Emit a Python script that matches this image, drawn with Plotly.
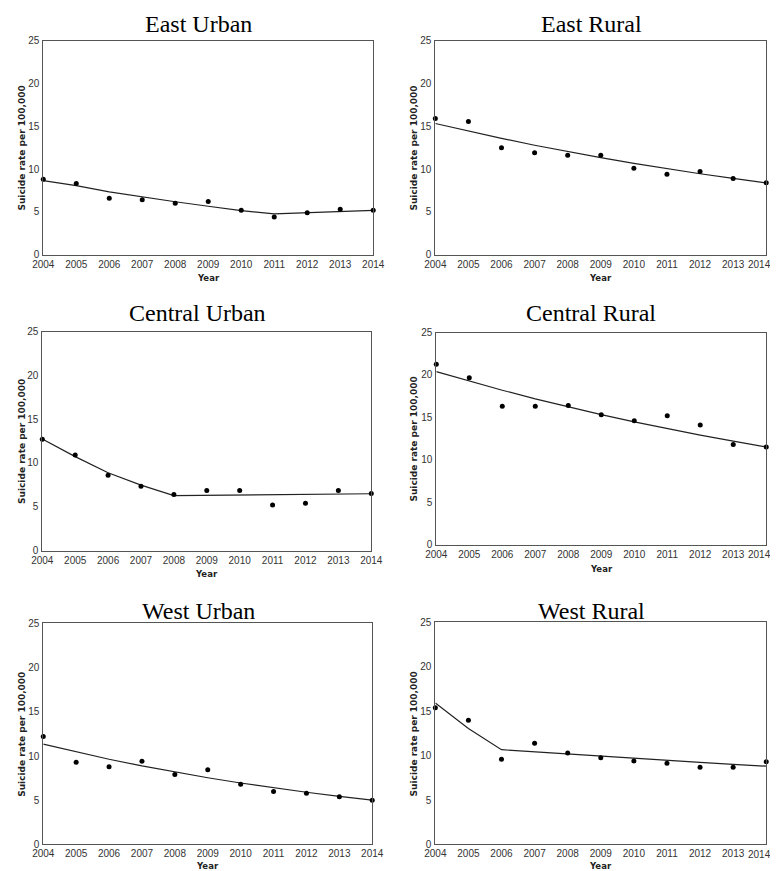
import plotly.graph_objects as go

W, H = 778, 871

years = list(range(2004, 2015))
year_labels = [str(y) for y in years]
y_ticks = [0, 5, 10, 15, 20, 25]

panel_titles = ["East Urban", "East Rural", "Central Urban",
                "Central Rural", "West Urban", "West Rural"]

east_urban_obs = [8.8, 8.3, 6.6, 6.4, 6.0, 6.2, 5.2, 4.4, 4.9, 5.3, 5.2]
east_urban_fit = [8.64, 8.06, 7.33, 6.72, 6.18, 5.65, 5.15, 4.76, 4.92, 5.07, 5.18]

east_rural_obs = [15.9, 15.55, 12.5, 11.9, 11.6, 11.6, 10.1, 9.4, 9.7, 8.9, 8.4]
east_rural_fit = [15.32, 14.42, 13.58, 12.78, 12.03, 11.33, 10.66, 10.04, 9.45, 8.9, 8.37]

central_urban_obs = [12.7, 10.9, 8.6, 7.35, 6.4, 6.85, 6.85, 5.2, 5.4, 6.85, 6.5]
central_urban_fit = [12.74, 10.72, 8.88, 7.46, 6.26, 6.30, 6.33, 6.37, 6.41, 6.44, 6.48]

central_rural_obs = [21.25, 19.67, 16.3, 16.3, 16.4, 15.3, 14.6, 15.2, 14.1, 11.8, 11.5]
central_rural_fit = [20.4, 19.27, 18.2, 17.18, 16.23, 15.32, 14.47, 13.67, 12.91, 12.19, 11.51]

west_urban_obs = [12.2, 9.3, 8.8, 9.4, 7.9, 8.45, 6.8, 6.0, 5.8, 5.4, 5.0]
west_urban_fit = [11.35, 10.46, 9.64, 8.88, 8.19, 7.54, 6.95, 6.41, 5.9, 5.44, 5.02]

west_rural_obs = [15.4, 14.0, 9.6, 11.4, 10.3, 9.75, 9.4, 9.15, 8.7, 8.7, 9.3]
west_rural_fit = [15.93, 13.07, 10.67, 10.42, 10.17, 9.93, 9.69, 9.46, 9.24, 9.02, 8.81]

observed = [east_urban_obs, east_rural_obs, central_urban_obs,
            central_rural_obs, west_urban_obs, west_rural_obs]
fitted = [east_urban_fit, east_rural_fit, central_urban_fit,
          central_rural_fit, west_urban_fit, west_rural_fit]

# plot-area pixel boxes (left, right, top, bottom)
boxes = [(25, 365, 27, 244), (429, 770, 27, 244),
         (24, 363, 322, 544), (430, 770, 323, 538),
         (25, 364, 618, 842), (429, 770, 617, 842)]
title_pos = [(185, 10), (590, 10), (184, 303), (589, 303), (185, 605), (590, 605)]
year_y = [268, 268, 568, 563, 864, 864]

fig = go.Figure()
annotations = []
layout_axes = {}

tick_font = dict(family="Liberation Sans, Arial, sans-serif", size=10, color="#333333")

for i in range(6):
    l, r, t, b = boxes[i]
    right_col = l > 200
    xa = "x" if i == 0 else f"x{i+1}"
    ya = "y" if i == 0 else f"y{i+1}"
    xkey = "xaxis" if i == 0 else f"xaxis{i+1}"
    ykey = "yaxis" if i == 0 else f"yaxis{i+1}"
    # on the right column the last year label is drawn as an annotation so it
    # stays inside the page edge
    ttext = year_labels[:-1] + [""] if right_col else year_labels
    layout_axes[xkey] = dict(
        domain=[l / W, r / W], anchor=ya, range=[2004, 2014],
        tickmode="array", tickvals=years, ticktext=ttext,
        showgrid=False, zeroline=False, showline=True, mirror=True,
        linecolor="#555555", linewidth=1, ticks="", tickfont=tick_font,
    )
    layout_axes[ykey] = dict(
        domain=[1 - b / H, 1 - t / H], anchor=xa, range=[0, 25],
        tickmode="array", tickvals=y_ticks, ticktext=[str(v) for v in y_ticks],
        showgrid=False, zeroline=False, showline=True, mirror=True,
        linecolor="#555555", linewidth=1, ticks="", tickfont=tick_font,
        ticklabelstandoff=1,
    )
    if right_col:
        annotations.append(dict(
            text=year_labels[-1], x=777 / W, y=1 - (b + 10) / H,
            xref="paper", yref="paper", showarrow=False,
            xanchor="right", yanchor="middle", font=tick_font,
        ))
    fig.add_trace(go.Scatter(
        x=years, y=fitted[i], mode="lines", xaxis=xa, yaxis=ya,
        line=dict(color="#222222", width=1.2), showlegend=False, cliponaxis=False,
    ))
    fig.add_trace(go.Scatter(
        x=years, y=observed[i], mode="markers", xaxis=xa, yaxis=ya,
        marker=dict(color="black", size=5), showlegend=False, cliponaxis=False,
    ))
    tx, ty = title_pos[i]
    annotations.append(dict(
        text=panel_titles[i], x=tx / W, y=1 - ty / H, xref="paper", yref="paper",
        showarrow=False, xanchor="center", yanchor="middle",
        font=dict(family="Liberation Serif, Times New Roman, serif", size=24, color="black"),
    ))
    annotations.append(dict(
        text="<b>Year</b>", x=(l + r) / 2 / W, y=1 - year_y[i] / H,
        xref="paper", yref="paper", showarrow=False,
        xanchor="center", yanchor="middle",
        font=dict(family="DejaVu Sans, Verdana, sans-serif", size=8.5, color="#222222"),
    ))
    ylab_x = 407 if right_col else 3
    annotations.append(dict(
        text="<b>Suicide rate per 100,000</b>", x=ylab_x / W, y=1 - ((t + b) / 2) / H,
        xref="paper", yref="paper", showarrow=False, textangle=-90,
        xanchor="center", yanchor="middle",
        font=dict(family="DejaVu Sans, Verdana, sans-serif", size=9, color="#222222"),
    ))

fig.update_layout(
    width=W, height=H, margin=dict(l=0, r=0, t=0, b=0),
    paper_bgcolor="white", plot_bgcolor="white",
    annotations=annotations, **layout_axes,
)

fig.write_html("out.html")
